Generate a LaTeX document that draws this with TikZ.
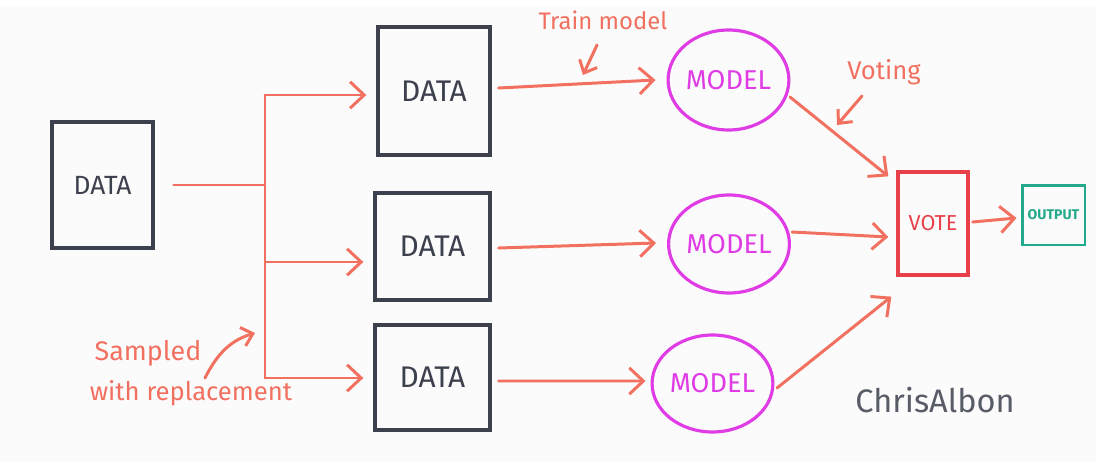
\documentclass[tikz,border=0pt]{standalone}
\usepackage{fontspec}
\setmainfont{Fira Sans}
\usetikzlibrary{arrows.meta,shapes.geometric}
\definecolor{arr}{HTML}{F2705F}
\definecolor{datac}{HTML}{3D414E}
\definecolor{modelc}{HTML}{E03CE6}
\definecolor{votec}{HTML}{E8404A}
\definecolor{outc}{HTML}{22A88A}
\definecolor{namec}{HTML}{585C66}
\definecolor{bgc}{HTML}{FBFBFB}
\tikzset{
  databox/.style={draw=datac, line width=1.9pt, inner sep=0pt, text=datac, font=\fontsize{17}{20}\selectfont},
  modelnode/.style={ellipse, draw=modelc, line width=1.8pt, inner sep=0pt, text=modelc, font=\fontsize{15.5}{18}\selectfont},
  line/.style={draw=arr, line width=1.7pt, line cap=round},
  arrline/.style={line, -{Straight Barb[length=8pt,width=15pt,line width=1.7pt]}},
  smallarr/.style={line, -{Straight Barb[length=6pt,width=11pt,line width=1.7pt]}},
  lbl/.style={text=arr, inner sep=0pt},
}
\begin{document}
\begin{tikzpicture}[x=0.02cm,y=-0.02cm]
\useasboundingbox (0,0) rectangle (1096,463);
\fill[white] (0,0) rectangle (1096,463);
\fill[bgc] (0,7) rectangle (1096,463);

% data boxes
\node[databox, minimum width=2.02cm, minimum height=2.52cm, font=\fontsize{15}{18}\selectfont] (L) at (102.5,185) {DATA};
\node[databox, minimum width=2.24cm, minimum height=2.56cm] (D1) at (434,91) {DATA};
\node[databox, minimum width=2.30cm, minimum height=2.14cm] (D2) at (432.5,246.5) {DATA};
\node[databox, minimum width=2.30cm, minimum height=2.10cm] (D3) at (432.5,377.5) {DATA};

% models
\node[modelnode, minimum width=2.10cm, minimum height=2.00cm] (M1) at (728.5,80) {MODEL};
\node[modelnode, minimum width=2.12cm, minimum height=1.96cm] (M2) at (729,244) {MODEL};
\node[modelnode, minimum width=2.10cm, minimum height=1.94cm] (M3) at (712.5,383.5) {MODEL};

% vote and output
\node[draw=votec, line width=1.9pt, inner sep=0pt, text=votec, minimum width=1.40cm, minimum height=2.06cm, font=\fontsize{12.3}{14}\selectfont] (V) at (933,223.5) {VOTE};
\node[draw=outc, line width=1.7pt, inner sep=0pt, text=outc, minimum width=1.26cm, minimum height=1.20cm, font=\fontsize{8}{10}\selectfont\bfseries] (O) at (1053.5,215) {OUTPUT};

% splitting tree
\coordinate (j) at (265,185);
\coordinate (t1) at (265,95);
\coordinate (t2) at (265,262);
\coordinate (t3) at (265,378);
\draw[line, shorten <=0.38cm] (L.east) -- (j);
\draw[line] (t1) -- (t3);
\draw[arrline, shorten >=0.2cm] (t1) -- (t1 -| D1.west);
\draw[arrline, shorten >=0.2cm] (t2) -- (t2 -| D2.west);
\draw[arrline, shorten >=0.2cm] (t3) -- (t3 -| D3.west);

% data -> model
\draw[arrline] ([shift={(7,-3)}]D1.east) -- ([shift={(-11,0)}]M1.west);
\draw[arrline] ([shift={(7,1.5)}]D2.east) -- ([shift={(-11,-1)}]M2.west);
\draw[arrline] ([shift={(7,3.5)}]D3.east) -- ([shift={(-5,-2.5)}]M3.west);

% model -> vote
\draw[arrline] ([shift={(61.5,17)}]M1.center) -- ([shift={(-8,6)}]V.north west);
\draw[arrline] ([shift={(63,-12)}]M2.center) -- ([shift={(-8,13.5)}]V.west);
\draw[arrline] ([shift={(64.5,4.5)}]M3.center) -- ([shift={(-5,20)}]V.south west);

% vote -> output
\draw[arrline] ([shift={(3,-1.5)}]V.east) -- ([shift={(-4,3)}]O.west);

% labels
\node[lbl, font=\fontsize{13.6}{16}\selectfont] (train) at (603,20) {Train model};
\coordinate (trainA) at (597,45);
\coordinate (trainB) at (583,75);
\draw[smallarr] (trainA) -- (trainB);

\node[lbl, font=\fontsize{14.6}{17}\selectfont] (voting) at (884,72) {Voting};
\coordinate (votA) at (862,96);
\coordinate (votB) at (837,125);
\draw[smallarr] (votA) -- (votB);

\node[lbl, font=\fontsize{15.3}{18}\selectfont] (samp) at (148,353) {Sampled};
\node[lbl, font=\fontsize{14.6}{17}\selectfont] (repl) at (191,393) {with replacement};
\coordinate (sampA) at (205,378);
\coordinate (sampB) at (255,333);
\draw[smallarr] (sampA) .. controls (218,352) and (232,340) .. (sampB);

\node[text=namec, inner sep=0pt, font=\fontsize{18.5}{22}\selectfont] (name) at (935,400) {ChrisAlbon};
\end{tikzpicture}
\end{document}
